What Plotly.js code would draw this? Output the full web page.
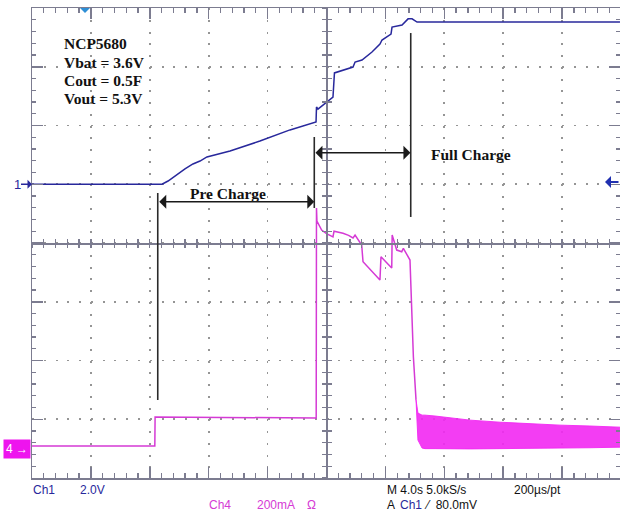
<!DOCTYPE html>
<html>
<head>
<meta charset="utf-8">
<script src="https://cdn.plot.ly/plotly-3.0.1.min.js"></script>
<style>html,body{margin:0;padding:0;background:#fff;}#chart{width:620px;height:515px;}</style>
</head>
<body>
<div id="chart"></div>
<script>
// ---- Data (time in s from left edge of screen, 4 s/div) ----
// Channel 1: output voltage (V, relative to ch1 ground marker), 2.0 V/div
const ch1Time = [0, 8.83, 9.24, 9.78, 10.39, 10.93, 11.41, 11.88, 13.45, 15.48, 17.52, 19.29, 19.32, 19.42, 19.76, 20.44, 20.54, 21.26, 21.80, 21.94, 22.41, 23.09, 23.63, 23.77, 24.38, 24.45, 25.13, 25.54, 25.81, 26.15, 39.93];
const ch1Volts = [0, 0, 0.11, 0.31, 0.52, 0.69, 0.79, 0.93, 1.13, 1.47, 1.85, 2.12, 2.63, 2.56, 2.70, 2.97, 3.79, 3.89, 3.99, 4.16, 4.23, 4.50, 4.77, 4.91, 5.11, 5.35, 5.42, 5.63, 5.63, 5.52, 5.52];
// Channel 4: charge current (mA, relative to ch4 marker), 200 mA/div
const ch4Time = [0, 8.34, 8.36, 12.0, 19.30, 19.32, 19.35, 19.67, 20.00, 20.44, 20.51, 21.12, 21.50, 21.80, 21.94, 22.39, 22.48, 23.63, 23.70, 24.43, 24.46, 24.77, 25.11, 25.22, 25.56, 25.67, 25.90, 26.08];
const ch4mA = [9, 9, 108, 107, 104, 819, 775, 744, 732, 721, 740, 733, 726, 717, 727, 693, 636, 574, 653, 615, 727, 676, 670, 682, 653, 642, 313, 166];
// Channel 4 noise band after full charge (envelope, mA)
const bandTime = [26.08, 26.21, 26.49, 26.69, 27.37, 28.39, 29.75, 31.78, 33.82, 35.86, 37.89, 39.93];
const bandHigh = [166, 121, 114, 114, 111, 104, 97, 90, 84, 80, 77, 73];
const bandLow = [166, 29, 2, 0, 0, -1, -1, 0, 2, 2, 3, 5];

// scope channel settings
const CH1_SCALE = 2.0, CH1_OFFSET = 1.0;     // V/div, div
const CH4_SCALE = 200, CH4_OFFSET = -3.5;    // mA/div, div
const toDiv = (arr, s, o) => arr.map(v => o + v / s);

const C1 = '#28289c', C4 = '#d53ad5', BAND = 'rgba(242,40,242,0.9)', GRID = '#7c7c90';

const traces = [
  {x: ch1Time, y: toDiv(ch1Volts, CH1_SCALE, CH1_OFFSET), mode: 'lines', line: {color: C1, width: 1.5}, hoverinfo: 'skip'},
  {x: ch4Time, y: toDiv(ch4mA, CH4_SCALE, CH4_OFFSET), mode: 'lines', line: {color: C4, width: 1.5}, hoverinfo: 'skip'},
  {x: bandTime, y: toDiv(bandLow, CH4_SCALE, CH4_OFFSET), mode: 'lines', line: {color: BAND, width: 1}, hoverinfo: 'skip'},
  {x: bandTime, y: toDiv(bandHigh, CH4_SCALE, CH4_OFFSET), mode: 'lines', line: {color: BAND, width: 1}, fill: 'tonexty', fillcolor: BAND, hoverinfo: 'skip'},
  // empty traces so the centre graticule axes get drawn
  {x: [], y: [], xaxis: 'x2', yaxis: 'y', hoverinfo: 'skip'},
  {x: [], y: [], xaxis: 'x3', yaxis: 'y', hoverinfo: 'skip'},
  {x: [], y: [], xaxis: 'x', yaxis: 'y2', hoverinfo: 'skip'},
  {x: [], y: [], xaxis: 'x', yaxis: 'y3', hoverinfo: 'skip'}
];

const W = 620, H = 515, ML = 32, MR = 0, MT = 8, MB = 37;
const PW = W - ML - MR, PH = H - MT - MB;
const px = x => (x - ML) / PW;
const py = y => (H - MB - y) / PH;
const XMAX = 40 * PW / 589;

const serif = {family: 'Liberation Serif, Times New Roman, serif', size: 15.5, color: '#111'};
const sans = c => ({family: 'Liberation Sans, Arial, sans-serif', size: 12, color: c});

function txt(text, x, y, font, xref, yref) {
  return {text: text, x: x, y: y, xref: xref || 'paper', yref: yref || 'paper', xanchor: 'left', yanchor: 'middle', showarrow: false, font: font, borderpad: 0};
}
function dblArrow(x0, x1, y) {
  return {x: x1, y: y, ax: x0, ay: y, xref: 'x', yref: 'y', axref: 'x', ayref: 'y', text: '', showarrow: true,
    arrowside: 'end+start', arrowhead: 1, startarrowhead: 1, arrowsize: 1.55, startarrowsize: 1.55, arrowwidth: 1.5, arrowcolor: '#1a1a1a', standoff: 0, startstandoff: 0};
}

const annotations = [
  txt('<b>NCP5680</b>', 2.11, 3.404, serif, 'x', 'y'),
  txt('<b>Vbat = 3.6V</b>', 2.11, 3.08, serif, 'x', 'y'),
  txt('<b>Cout = 0.5F</b>', 2.11, 2.774, serif, 'x', 'y'),
  txt('<b>Vout = 5.3V</b>', 2.11, 2.468, serif, 'x', 'y'),
  Object.assign(txt('<b>Pre Charge</b>', 13.34, 0.851, serif, 'x', 'y'), {xanchor: 'center'}),
  Object.assign(txt('<b>Full Charge</b>', 29.8, 1.498, serif, 'x', 'y'), {xanchor: 'center'}),
  dblArrow(8.54, 19.17, 0.703),
  dblArrow(19.15, 25.70, 1.537),
  // channel markers
  {text: '1', x: 0, y: CH1_OFFSET, xref: 'paper', yref: 'y', ax: -15, ay: 0, showarrow: true, arrowhead: 1, arrowsize: 1, arrowwidth: 1.5, arrowcolor: C1, font: {family: 'Liberation Sans, Arial, sans-serif', size: 13, color: C1}, borderpad: 0},
  {text: '4 →', x: px(31), y: CH4_OFFSET, xref: 'paper', yref: 'y', xanchor: 'right', yanchor: 'middle', showarrow: false, bgcolor: '#ee14ee', borderpad: 2, font: {family: 'Liberation Sans, Arial, sans-serif', size: 12, color: '#ffffff'}},
  {text: '', x: px(605), y: 1.038, xref: 'paper', yref: 'y', ax: 15, ay: 0, showarrow: true, arrowhead: 1, arrowsize: 1, arrowwidth: 2, arrowcolor: '#2030b0'},
  // status line
  txt('Ch1', px(31.7), py(490), sans(C1)),
  txt('2.0V', px(79), py(490), sans(C1)),
  txt('Ch4', px(208), py(505), sans(C4)),
  txt('200mA', px(256), py(505), sans(C4)),
  txt('Ω', px(306), py(505), sans(C4)),
  txt('M 4.0s 5.0kS/s', px(386), py(490), sans('#111')),
  txt('200µs/pt', px(513), py(490), sans('#111')),
  txt('A', px(386), py(505), sans('#111')),
  txt('Ch1', px(399), py(505), sans(C1)),
  txt('⁄  80.0mV', px(423), py(505), sans('#111'))
];

const vline = (x, y0, y1) => ({type: 'line', xref: 'x', yref: 'y', x0: x, x1: x, y0: y0, y1: y1, line: {color: '#2a2a2a', width: 1.6}});
const shapes = [
  vline(8.54, 0.851, -2.672),
  vline(19.17, 1.804, 0.596),
  vline(25.72, 3.574, 0.443),
  {type: 'path', xref: 'x', yref: 'paper', xsizemode: 'pixel', ysizemode: 'pixel', xanchor: 3.6, yanchor: 1,
   path: 'M-5,0L5,0L0,-5Z', fillcolor: '#2e8fd6', line: {width: 0}}
];

const baseX = {range: [0, XMAX], showticklabels: false, zeroline: false, fixedrange: true};
const baseY = {range: [-4, 4], showticklabels: false, zeroline: false, fixedrange: true};
// dotted graticule: one dot per minor division (5 per major)
const DOTS_H = '2px,9.78px';
const DOTS_V = '2px,9.75px';

const layout = {
  width: W, height: H,
  margin: {l: ML, r: MR, t: MT, b: MB, pad: 0},
  paper_bgcolor: '#ffffff', plot_bgcolor: '#ffffff',
  showlegend: false,
  xaxis: Object.assign({}, baseX, {
    tick0: 0, dtick: 4, ticks: 'inside', ticklen: 11, tickwidth: 1.5, tickcolor: GRID,
    showline: true, linecolor: GRID, linewidth: 1.5, mirror: 'ticks',
    showgrid: true, gridcolor: '#959595', gridwidth: 1.6, griddash: DOTS_V,
    minor: {tick0: 0, dtick: 0.8, ticks: 'inside', ticklen: 5, tickwidth: 1.3, tickcolor: GRID, showgrid: false}
  }),
  yaxis: Object.assign({}, baseY, {
    tick0: 0, dtick: 1, ticks: 'inside', ticklen: 11, tickwidth: 1.5, tickcolor: GRID,
    showline: true, linecolor: GRID, linewidth: 1.5, mirror: 'ticks',
    showgrid: true, gridcolor: '#959595', gridwidth: 1.6, griddash: DOTS_H,
    minor: {tick0: 0, dtick: 0.2, ticks: 'inside', ticklen: 4, tickwidth: 1.3, tickcolor: GRID, showgrid: false}
  }),
  xaxis2: Object.assign({}, baseX, {overlaying: 'x', anchor: 'free', position: 0.5, tick0: 0, dtick: 0.8, ticks: 'inside', ticklen: 4, tickwidth: 1.3, tickcolor: GRID, showline: true, linecolor: GRID, linewidth: 1.5, showgrid: false}),
  xaxis3: Object.assign({}, baseX, {overlaying: 'x', anchor: 'free', position: 0.5, tick0: 0, dtick: 0.8, ticks: 'outside', ticklen: 4, tickwidth: 1.3, tickcolor: GRID, showline: false, showgrid: false}),
  yaxis2: Object.assign({}, baseY, {overlaying: 'y', anchor: 'free', position: 0.5, tick0: 0, dtick: 0.2, ticks: 'inside', ticklen: 4, tickwidth: 1.3, tickcolor: GRID, showline: true, linecolor: GRID, linewidth: 1.5, showgrid: false}),
  yaxis3: Object.assign({}, baseY, {overlaying: 'y', anchor: 'free', position: 0.5, tick0: 0, dtick: 0.2, ticks: 'outside', ticklen: 4, tickwidth: 1.3, tickcolor: GRID, showline: false, showgrid: false}),
  annotations: annotations,
  shapes: shapes
};

Plotly.newPlot('chart', traces, layout, {displayModeBar: false, staticPlot: true});
</script>
</body>
</html>
